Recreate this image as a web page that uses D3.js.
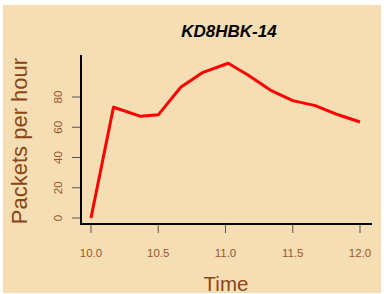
<!DOCTYPE html>
<html><head><meta charset="utf-8">
<script src="https://cdn.jsdelivr.net/npm/d3@7"></script>
<style>
html,body{margin:0;padding:0;background:#fff;}
svg{display:block;font-family:"Liberation Sans",Arial,sans-serif;}
</style></head>
<body>
<svg id="c" width="384" height="294"></svg>
<script>
const title = "KD8HBK-14";
const times = [10.0, 10.167, 10.37, 10.5, 10.667, 10.833, 11.02, 11.167, 11.333, 11.5, 11.667, 11.833, 12.0];
const packets = [0, 73.2, 67.2, 68.2, 86.4, 96.3, 102.3, 94.5, 84.6, 77.6, 74.3, 68.4, 63.5];
const xTicks = [10.0, 10.5, 11.0, 11.5, 12.0];
const xTickLabels = ["10.0", "10.5", "11.0", "11.5", "12.0"];
const yTicks = [0, 20, 40, 60, 80];
const xLabel = "Time";
const yLabel = "Packets per hour";

const svg = d3.select("#c");
svg.append("rect").attr("x",3).attr("y",5).attr("width",378).attr("height",288).attr("fill","#F5DEB3");

const x = d3.scaleLinear().domain([10,12]).range([91,360]);
const y = d3.scaleLinear().domain([0,80]).range([218,97]);

// axis lines
svg.append("line").attr("x1",81).attr("x2",81).attr("y1",55).attr("y2",224.5)
  .attr("stroke","#000").attr("stroke-width",2);
svg.append("line").attr("x1",80).attr("x2",372).attr("y1",224).attr("y2",224)
  .attr("stroke","#000").attr("stroke-width",2);

// x ticks
const xg = svg.append("g");
xTicks.forEach((t,i)=>{
  xg.append("line").attr("x1",x(t)).attr("x2",x(t)).attr("y1",225).attr("y2",233)
    .attr("stroke","#555").attr("stroke-width",1);
  xg.append("text").attr("x",x(t)).attr("y",257).attr("text-anchor","middle")
    .attr("font-size",11.5).attr("fill","#A0522D").text(xTickLabels[i]);
});
// y ticks
const yg = svg.append("g");
yTicks.forEach(t=>{
  yg.append("line").attr("x1",72).attr("x2",80).attr("y1",y(t)).attr("y2",y(t))
    .attr("stroke","#555").attr("stroke-width",1);
  yg.append("text").attr("transform",`translate(62,${y(t)}) rotate(-90)`)
    .attr("text-anchor","middle").attr("font-size",11.5).attr("fill","#A0522D").text(t);
});

// line
const line = d3.line().x((d,i)=>x(times[i])).y(d=>y(d));
svg.append("path").datum(packets).attr("d",line).attr("fill","none")
  .attr("stroke","#FF0000").attr("stroke-width",3).attr("stroke-linejoin","round");

// title
svg.append("text").attr("x",229).attr("y",37).attr("text-anchor","middle")
  .attr("font-size",17).attr("font-weight","bold").attr("font-style","italic")
  .attr("fill","#000").text(title);
// axis labels
svg.append("text").attr("x",226).attr("y",291).attr("text-anchor","middle")
  .attr("font-size",20.5).attr("fill","#8B4513").text(xLabel);
svg.append("text").attr("transform","translate(27,141) rotate(-90)").attr("text-anchor","middle")
  .attr("font-size",22).attr("fill","#8B4513").text(yLabel);
</script>
</body></html>
